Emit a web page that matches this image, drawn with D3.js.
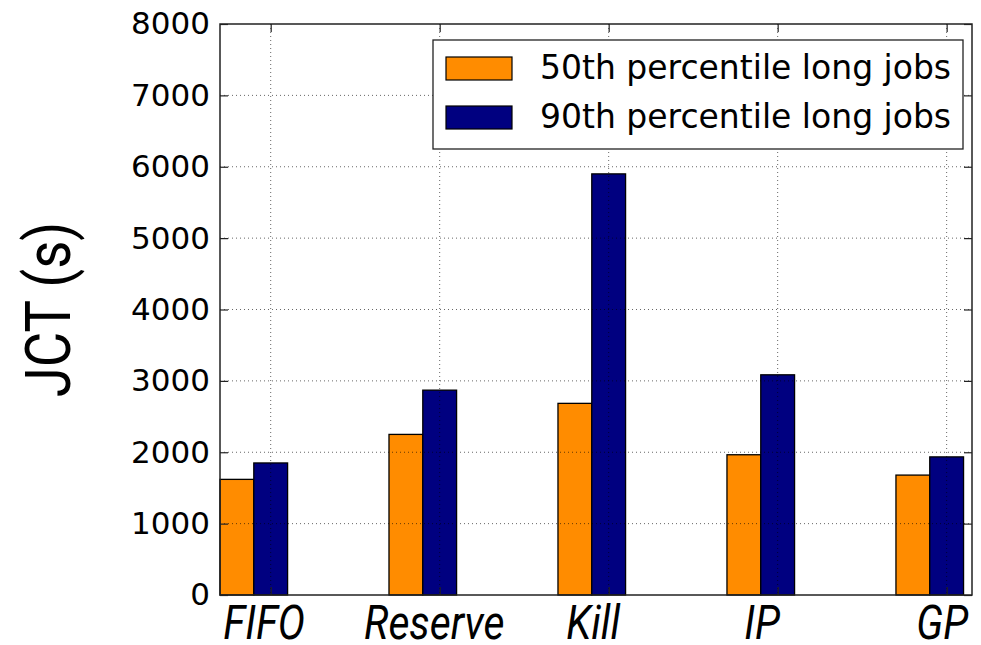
<!DOCTYPE html>
<html>
<head>
<meta charset="utf-8">
<script src="https://cdn.jsdelivr.net/npm/d3@7"></script>
<style>
  body { margin: 0; background: #fff; }
  svg { display: block; }
</style>
</head>
<body>
<div id="chart"></div>
<script>
// chart values
const categories = ["FIFO", "Reserve", "Kill", "IP", "GP"];
const p50 = [1620, 2250, 2685, 1965, 1680];
const p90 = [1850, 2870, 5900, 3085, 1935];
const seriesNames = ["50th percentile long jobs", "90th percentile long jobs"];
const yTicks = [0, 1000, 2000, 3000, 4000, 5000, 6000, 7000, 8000];

const svgWidth = 981, svgHeight = 645;
const margin = { top: 24, right: 9, bottom: 50, left: 220 },
  width = svgWidth - margin.left - margin.right,
  height = svgHeight - margin.top - margin.bottom;

const colors = ["#ff8c00", "#000080"];
// small horizontal nudges so the italic labels sit like the original
const labelNudge = [-7, -6, -16, -16, -5];

const svg = d3.select("#chart").append("svg")
    .attr("width", svgWidth)
    .attr("height", svgHeight);

const g = svg.append("g")
    .attr("transform", "translate(" + margin.left + "," + margin.top + ")");

const x = d3.scaleLinear().domain([-0.3, 4.15]).range([0, width]);
const y = d3.scaleLinear().domain([0, 8000]).range([height, 0]);

const barW = 0.2;

// bars: orange left of the tick, blue centred on it
const series = [p50, p90];
series.forEach(function(vals, s) {
  g.selectAll(".bar" + s)
    .data(vals)
    .enter().append("rect")
      .attr("x", function(d, i) { return x(i - 0.3 + s * barW); })
      .attr("width", x(barW) - x(0))
      .attr("y", function(d) { return y(d); })
      .attr("height", function(d) { return y(0) - y(d); })
      .attr("fill", colors[s])
      .attr("stroke", "#000")
      .attr("stroke-width", 1.3);
});

// dotted grid, drawn over the bars
const grid = g.append("g").attr("class", "grid")
    .attr("stroke", "#000").attr("stroke-opacity", 0.6)
    .attr("stroke-width", 1).attr("stroke-dasharray", "1,3");
grid.selectAll(".hg").data(yTicks.slice(1, -1)).enter().append("line")
    .attr("x1", 0).attr("x2", width)
    .attr("y1", function(d) { return y(d); }).attr("y2", function(d) { return y(d); });
grid.selectAll(".vg").data(d3.range(categories.length)).enter().append("line")
    .attr("y1", 0).attr("y2", height)
    .attr("x1", function(d) { return x(d); }).attr("x2", function(d) { return x(d); });

// axes with inward ticks on all four sides
const tickFont = "DejaVu Sans, sans-serif";

const yAxis = g.append("g")
    .call(d3.axisLeft(y).tickValues(yTicks).tickSize(-8).tickPadding(10).tickFormat(d3.format("d")));
yAxis.selectAll("text").attr("font-family", tickFont).attr("font-size", 31).attr("fill", "#000");

g.append("g")
    .attr("transform", "translate(" + width + ",0)")
    .call(d3.axisRight(y).tickValues(yTicks).tickSize(-8).tickFormat(""));

const xAxis = g.append("g")
    .attr("transform", "translate(0," + height + ")")
    .call(d3.axisBottom(x).tickValues(d3.range(categories.length)).tickSize(-8)
      .tickPadding(0).tickFormat(function(i) { return categories[i]; }));
xAxis.selectAll("text")
    .attr("font-family", "Roboto, sans-serif")
    .attr("font-style", "italic")
    .attr("font-size", 48)
    .attr("fill", "#000")
    .attr("dy", null)
    .attr("y", 44)
    .attr("transform", function(i) { return "translate(" + labelNudge[i] + ",0) scale(0.85,1)"; });

g.append("g")
    .call(d3.axisTop(x).tickValues(d3.range(categories.length)).tickSize(-8).tickFormat(""));

g.selectAll(".domain").remove();
g.selectAll(".tick line").attr("stroke", "#222").attr("stroke-width", 1.2);

// frame
g.append("rect")
    .attr("width", width).attr("height", height)
    .attr("fill", "none").attr("stroke", "#222").attr("stroke-width", 1.5);

// y label
svg.append("text")
    .attr("transform", "translate(70," + (margin.top + height / 2) + ") rotate(-90) scale(0.865,1)")
    .attr("text-anchor", "middle")
    .attr("font-family", "Roboto, sans-serif")
    .attr("font-size", 63)
    .attr("fill", "#000")
    .text("JCT (s)");

// legend
const legend = svg.append("g").attr("transform", "translate(433,40)");
legend.append("rect")
    .attr("width", 530).attr("height", 109)
    .attr("fill", "#fff").attr("stroke", "#222").attr("stroke-width", 1.3);
seriesNames.forEach(function(name, s) {
  legend.append("rect")
    .attr("x", 13).attr("y", 17 + s * 49)
    .attr("width", 66).attr("height", 23)
    .attr("fill", colors[s]).attr("stroke", "#000").attr("stroke-width", 1.2);
  legend.append("text")
    .attr("x", 107).attr("y", 39 + s * 49)
    .attr("font-family", tickFont).attr("font-size", 33)
    .attr("fill", "#000")
    .text(name);
});
</script>
</body>
</html>
